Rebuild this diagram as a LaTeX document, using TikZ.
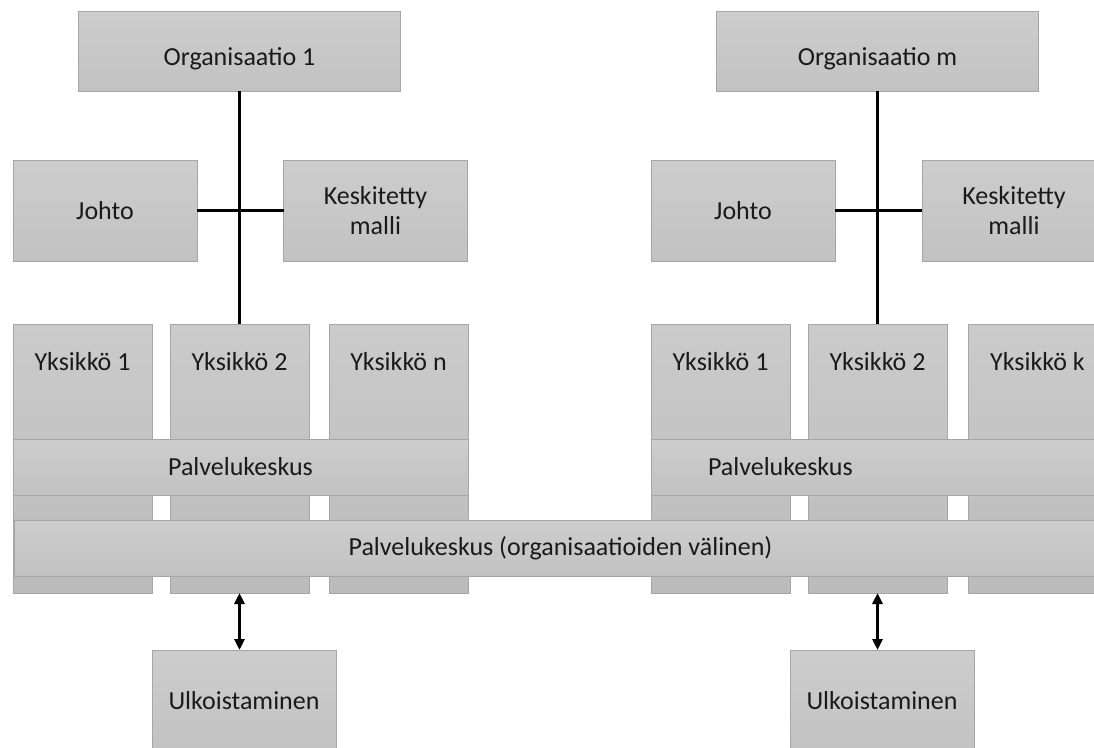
\documentclass[tikz,border=0pt]{standalone}
\usepackage{fontspec}
\setmainfont{Carlito}
\usetikzlibrary{arrows.meta,positioning}
\definecolor{boxtop}{HTML}{CDCDCD}
\definecolor{boxbot}{HTML}{C2C2C2}
\definecolor{unittop}{HTML}{CBCBCB}
\definecolor{unitbot}{HTML}{BBBBBB}
\definecolor{edge}{HTML}{A6A6A6}
\definecolor{ink}{HTML}{1A1A1A}
\tikzset{
  >={Triangle[length=11pt,width=10pt]},
  box/.style={draw=edge,line width=1pt,inner sep=0pt,outer sep=0pt,top color=boxtop,bottom color=boxbot,font=\fontsize{26}{30}\selectfont,text=ink,align=center},
  orgbox/.style={box,minimum width=322pt,minimum height=80pt,text height=34pt,text depth=5pt},
  sidebox/.style={box,minimum width=184pt,minimum height=101pt},
  unitbox/.style={box,top color=unittop,bottom color=unitbot,minimum width=139pt,minimum height=269pt,label={[lab,anchor=base,yshift=-46pt]north:#1}},
  band/.style={box,minimum height=56pt},
  lab/.style={font=\fontsize{26}{30}\selectfont,text=ink,inner sep=0pt},
  link/.style={draw=black,line width=3pt},
  arr/.style={<->,draw=black,line width=3pt},
}
\begin{document}
\begin{tikzpicture}[x=1pt,y=-1pt]
\useasboundingbox (0,0) rectangle (1094,747);
\fill[white] (0,0) rectangle (1094,747);
\clip (0,0) rectangle (1094,747);
% organisaatio 1
\node[orgbox] (o1) at (239.5,51) {Organisaatio 1};
\node[sidebox] (j1) at (105,210.5) {Johto};
\node[sidebox] (k1) at (375.5,210.5) {Keskitetty\\malli};
\node[unitbox={Yksikkö 1}] (y11) at (82.5,458.5) {};
\node[unitbox={Yksikkö 2}] (y12) at (239.5,458.5) {};
\node[unitbox={Yksikkö n}] (y1n) at (398.5,458.5) {};
\node[band,minimum width=455pt] (p1) at (240.5,467) {Palvelukeskus};
% organisaatio m
\node[orgbox] (om) at (877.5,51) {Organisaatio m};
\node[sidebox] (jm) at (743,210.5) {Johto};
\node[sidebox] (km) at (1014,210.5) {Keskitetty\\malli};
\node[unitbox={Yksikkö 1}] (ym1) at (720.5,458.5) {};
\node[unitbox={Yksikkö 2}] (ym2) at (877.5,458.5) {};
\node[unitbox={Yksikkö k}] (ymk) at (1037.5,458.5) {};
\node[band,text width=341pt,inner xsep=57pt,align=left] (pm) at (878.5,467) {Palvelukeskus};
% yhteinen
\node[band,minimum width=1093pt] (pv) at (560.5,548) {Palvelukeskus (organisaatioiden välinen)};
\node[sidebox] (u1) at (244,700.5) {Ulkoistaminen};
\node[sidebox] (um) at (882,700.5) {Ulkoistaminen};
\draw[link] (o1.south) -- (y12.north);
\draw[link] (j1.east) -- (k1.west);
\draw[link] (om.south) -- (ym2.north);
\draw[link] (jm.east) -- (km.west);
\draw[arr] (y12.south) -- (y12.south |- u1.north);
\draw[arr] (ym2.south) -- (ym2.south |- um.north);
\end{tikzpicture}
\end{document}
